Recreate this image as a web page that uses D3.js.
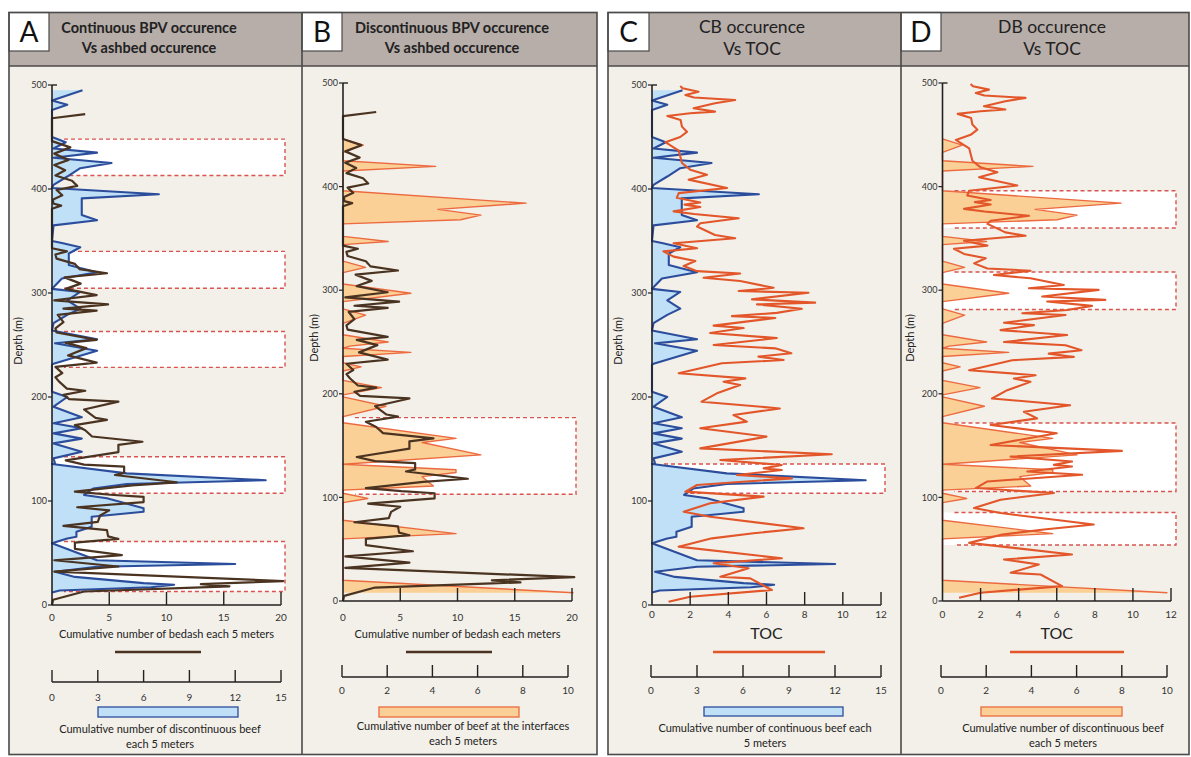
<!DOCTYPE html>
<html><head><meta charset="utf-8">
<script src="https://cdn.jsdelivr.net/npm/d3@7"></script>
<style>
body{margin:0;background:#ffffff}
svg{display:block}
text{font-family:Lato,"Open Sans",sans-serif}
</style>
</head><body>
<svg id="chart" width="1191" height="757"></svg>
<script>
// ---------------- DATA (depth in m, value) ----------------
const depthTicks = [0, 100, 200, 300, 400, 500];
const bedashTicks = [0, 5, 10, 15, 20];
const tocTicks = [0, 2, 4, 6, 8, 10, 12];
const contBeefTicks = [0, 3, 6, 9, 12, 15];
const discBeefTicks = [0, 2, 4, 6, 8, 10];

// Cumulative number of continuous beef each 5 m (blue)
const continuousBeef = [
 [495,2.0],[485,0],[481,1.0],[476,0],[450,0],[445,0.9],[439,0.1],[435,2.95],[430,0.1],[425,3.9],
 [420,1.85],[412,1.0],[404,0.1],[401,0],[395,7.0],[391,1.95],[375,1.95],[370,2.95],[365,0.1],[350,0],
 [348,0.65],[344,1.85],[338,1.1],[327,1.1],[324,1.85],[320,2.95],[317,1.85],[314,0.65],[304,0],[301,1.85],
 [293,1.0],[285,1.85],[279,1.0],[271,0.1],[264,0],[255.5,2.95],[251.6,0.2],[244.5,2.95],[232,0.1],[231,0],
 [205,0],[200,1.0],[190.7,0.1],[180.5,1.95],[174.7,0.1],[170,1.95],[165,0.1],[160,1.95],[155.4,0.1],[147.4,1.95],
 [141,0.1],[136,0.2],[135.5,0],[126.6,4.9],[120,14.0],[116.3,4.9],[112,2.7],[105.8,2.1],[102.6,3.6],[93,6.0],
 [89.7,6.0],[86.5,3.8],[84.9,2.6],[75.3,2.6],[70.5,1.6],[65.7,1.6],[64,1.0],[59.3,0],[43,2.95],[39.4,12.0],
 [36.8,2.95],[32,0.2],[27,1.5],[21,6.0],[19.5,8.0],[17,6.5],[14,0.5],[12,0]
];

// Cumulative number of discontinuous beef (beef at the interfaces) each 5 m (orange)
const discontinuousBeef = [
 [446,0],[440,0.9],[433,0],[425,0],[419.5,4.1],[415,0],[396,0],[384,8.1],[378,4.2],[372.5,6.1],
 [368,5.2],[364,0],[352,0],[347,2.0],[344,0],[328,0],[322,1.0],[317,0],[306,0],[297,3.0],
 [289,0],[282,0],[276,1.0],[268,0],[257,0],[250,2.0],[246,0.3],[244,0],[240,3.0],[236,0],
 [230,0],[226,0.8],[222,0],[213,0],[206,1.7],[199,0],[197,0],[188,1.9],[178,0],[172,0],
 [157,5.0],[153,3.5],[141,6.1],[132,0],[126.7,5.0],[124,5.0],[120,3.5],[111,4.0],[107,0],[104,0],
 [99,1.1],[95,0],[78,0],[65,5.0],[60,0],[20,0],[8,10.2]
];

// Cumulative number of bedash (ashbed) each 5 m (brown)
const ashbed = [
 [472,2.9],[468,0],[446,0],[440,1.6],[434,0.2],[428,1.45],[423,0.2],[418,1.15],[413,0.3],[408,1.75],
 [403,2.2],[399,0.4],[394,0.9],[390,0.1],[386,0.1],[384,0.8],[381,0],[343,0],[340,1.3],[337,0.3],
 [333,0.4],[328,2.0],[323,2.4],[319,4.8],[315,1.1],[309,2.5],[304,1.2],[298,3.9],[293,0.2],[289,4.9],
 [285,1.0],[283,3.9],[279,0.5],[272,1.0],[266,0.3],[262,0.4],[255,3.9],[252,1.2],[247,3.0],[240,1.4],
 [233,3.9],[229,0.3],[223,0.9],[219,0.3],[215,0.6],[208,1.3],[206,2.9],[202,1.0],[198,1.5],[195.5,5.8],
 [188,2.8],[180,3.8],[178,4.8],[173,2.0],[168,2.9],[162,3.5],[157,7.9],[154,5.8],[147,5.8],[139,1.2],
 [135,2.8],[133,6.3],[127,6.3],[125,5.5],[118,10.9],[115,7.0],[109,2.0],[106,5.1],[104,8.0],[99,8.0],
 [94,2.2],[91,5.0],[86,4.2],[80,4.0],[76,1.0],[72,4.8],[66,4.9],[63.5,5.8],[60,2.0],[54,2.0],
 [48,6.1],[43,0.2],[37,5.8],[32,0.2],[23,20.2],[20,13],[18,15.5],[17,13],[13,2.8],[5,0.1],[0,0]
];

// TOC (wt%)
const toc = [
 [499,1.48],[496.8,1.6],[493.6,2.44],[490.4,1.75],[488,2.2],[485.6,4.36],[482.4,3.3],[477.6,2.18],[474.4,3.3],[472.8,2.0],
 [470.2,0.8],[466.3,1.5],[460,1.57],[455,1.83],[450,1.48],[445,0.7],[437,1.4],[425,1.57],[418.6,2.0],[413.8,2.88],
 [409,1.92],[401,3.93],[396,1.4],[391.5,1.3],[387,2.53],[385,1.7],[382.7,2.53],[378.5,1.13],[376,2.2],[371.8,4.54],
 [367,2.53],[364,2.36],[355.8,3.3],[352.6,4.36],[347.8,1.13],[343,2.36],[340,0.6],[335,1.13],[330.8,2.27],[325.9,1.66],
 [321,2.36],[318.8,4.62],[314.7,2.7],[311.5,4.62],[305,6.37],[301.9,4.54],[300.3,8.2],[293.9,5.24],[290.7,8.55],[289.1,5.5],
 [284.9,7.85],[280.9,6.54],[277.8,4.19],[276,6.46],[268.6,3.23],[266.3,4.8],[261.5,3.05],[256.7,6.54],[250,3.23],[246.8,6.46],
 [242,7.3],[238.8,5.58],[235.6,6.9],[232.4,3.66],[222.8,1.4],[217.9,4.89],[214.7,3.75],[211.5,4.62],[203.5,3.4],[195.5,2.6],
 [189,6.7],[182.7,4.27],[176.3,4.97],[169.9,2.53],[161.9,6.0],[150.6,2.53],[144.9,9.42],[139.4,3.58],[134.6,6.8],[131.4,5.85],
 [129.8,6.8],[125,4.45],[121.8,7.33],[115.4,2.36],[109,1.75],[104.2,5.85],[97.8,3.05],[89.7,1.66],[84.9,3.05],[73.8,7.94],
 [69,5.32],[64.1,3.14],[56.1,1.4],[44.9,6.8],[40.1,3.23],[35.3,5.06],[27.2,3.58],[25.6,5.15],[14.4,6.28],[8,2.0],[3.2,0.87]
];

// highlighted intervals (top depth, bottom depth)
const zonesA = [[448,413],[340,304.5],[263,228.5],[142.6,107.4],[61,13]];
const zonesB = [[177,103]];
const zonesC = [[135.6,107.4]];
const zonesD = [[396,360],[317.5,281.4],[171.8,105.7],[85.4,54]];

// ---------------- STYLE ----------------
const C = {
  bg:'#f3f0e9', header:'#b7ada9', frame:'#4a4a4a',
  blueLine:'#2c4d9c', blueFill:'#bfe0f6',
  orangeLine:'#ec6a40', orangeFill:'#fbd096',
  brown:'#4a3320', toc:'#e2562a', zone:'#d9534f'
};

const svg = d3.select('#chart');

function box(x0,x1){
  svg.append('rect').attr('x',x0).attr('y',12.5).attr('width',x1-x0).attr('height',742)
    .attr('fill',C.bg);
}
box(9,597); box(608,1189);

const panels = [
 {letter:'A', fx0:9, fx1:302, lbx:[9,49], title:['Continuous BPV occurence','Vs ashbed occurence'], tx:149, bold:true,
  ax:52, axR:281, y0:605, y5:85, fill:continuousBeef, fillDom:15, fillR:281, fillKind:'blue',
  line:ashbed, lineDom:20, lineR:281, lineKind:'brown', ticks:bedashTicks, xTitle:'Cumulative number of bedash each 5 meters',
  xTitleSize:11, xTitleY:634, tickLabY:617, legLine:[115,201], legY:652,
  sec:{dom:15, ticks:contBeefTicks, r:[52,281], y:682, labY:697}, rect:[98,238,707,717],
  text:['Cumulative number of discontinuous beef','each 5 meters'], textX:160, textY:[729,744],
  zones:zonesA, zoneR:285, ylabX:22},
 {letter:'B', fx0:302, fx1:597, lbx:[302,342], title:['Discontinuous BPV occurence','Vs ashbed occurence'], tx:452, bold:true,
  ax:343, axR:572, y0:601, y5:83, fill:discontinuousBeef, fillDom:10, fillR:569, fillKind:'orange',
  line:ashbed, lineDom:20, lineR:572, lineKind:'brown', ticks:bedashTicks, xTitle:'Cumulative number of bedash each  meters',
  xTitleSize:11, xTitleY:634, tickLabY:617, legLine:[406,492], legY:652,
  sec:{dom:10, ticks:discBeefTicks, r:[342,568], y:677, labY:690}, rect:[379,519,707,717],
  text:['Cumulative number of beef at the interfaces','each 5 meters'], textX:463, textY:[726,741],
  zones:zonesB, zoneR:576, ylabX:318},
 {letter:'C', fx0:608, fx1:901, lbx:[608,649], title:['CB occurence','Vs TOC'], tx:752, bold:false,
  ax:652, axR:881, y0:605, y5:85, fill:continuousBeef, fillDom:15, fillR:881, fillKind:'blue',
  line:toc, lineDom:12, lineR:881, lineKind:'toc', ticks:tocTicks, xTitle:'TOC',
  xTitleSize:16, xTitleY:633, tickLabY:614, legLine:[713,825], legY:652,
  sec:{dom:15, ticks:contBeefTicks, r:[651,881], y:677, labY:690}, rect:[704,843,707,716],
  text:['Cumulative number of continuous beef  each','5 meters'], textX:765, textY:[728,743],
  zones:zonesC, zoneR:885, ylabX:622},
 {letter:'D', fx0:901, fx1:1189, lbx:[901,941], title:['DB occurence','Vs TOC'], tx:1052, bold:false,
  ax:942.5, axR:1171, y0:601, y5:83, fill:discontinuousBeef, fillDom:10, fillR:1163, fillKind:'orange',
  line:toc, lineDom:12, lineR:1171, lineKind:'toc', ticks:tocTicks, xTitle:'TOC',
  xTitleSize:16, xTitleY:633, tickLabY:614, legLine:[1010,1124], legY:652,
  sec:{dom:10, ticks:discBeefTicks, r:[941,1167], y:677, labY:690}, rect:[981,1122,707,716],
  text:['Cumulative number of discontinuous beef','each 5 meters'], textX:1063, textY:[728,743],
  zones:zonesD, zoneR:1176, ylabX:914}
];

panels.forEach(p => {
  const g = svg.append('g');
  const y = d3.scaleLinear().domain([0,500]).range([p.y0,p.y5]);
  const xf = d3.scaleLinear().domain([0,p.fillDom]).range([p.ax,p.fillR]);
  const xl = d3.scaleLinear().domain([0,p.lineDom]).range([p.ax,p.axR]);

  g.append('rect').attr('x',p.fx0).attr('y',12.5).attr('width',p.fx1-p.fx0).attr('height',53.5)
    .attr('fill',C.header);
  p.zones.forEach(z => {
    const yt = y(z[0]), yb = y(z[1]);
    g.append('rect').attr('x',p.ax+1).attr('y',yt).attr('width',p.zoneR-p.ax-1).attr('height',yb-yt)
      .attr('fill','#ffffff');
    g.append('path').attr('d',`M${p.ax+12},${yt}H${p.zoneR}V${yb}H${p.ax+12}`)
      .attr('fill','none').attr('stroke',C.zone).attr('stroke-width',1.4).attr('stroke-dasharray','4,3');
  });
  const area = d3.area().y(d=>y(d[0])).x0(xf(0)).x1(d=>xf(d[1]));
  const line = d3.line().y(d=>y(d[0])).x(d=>xf(d[1]));
  const fc = p.fillKind==='blue' ? C.blueFill : C.orangeFill;
  const lc = p.fillKind==='blue' ? C.blueLine : C.orangeLine;
  g.append('path').datum(p.fill).attr('d',area).attr('fill',fc);
  g.append('path').datum(p.fill).attr('d',line).attr('fill','none').attr('stroke',lc)
    .attr('stroke-width',p.fillKind==='blue'?2.1:1.4).attr('stroke-linejoin','round');
  const l2 = d3.line().y(d=>y(d[0])).x(d=>xl(d[1]));
  g.append('path').datum(p.line).attr('d',l2).attr('fill','none')
    .attr('stroke',p.lineKind==='brown'?C.brown:C.toc)
    .attr('stroke-width',p.lineKind==='brown'?2.2:2.1).attr('stroke-linejoin','round');

  g.append('line').attr('x1',p.ax).attr('x2',p.ax).attr('y1',p.y0).attr('y2',p.y5)
    .attr('stroke','#222').attr('stroke-width',1.6);
  g.append('line').attr('x1',p.ax).attr('x2',p.ax+5).attr('y1',p.y5).attr('y2',p.y5)
    .attr('stroke','#222').attr('stroke-width',1.4);
  depthTicks.forEach(t => {
    g.append('line').attr('x1',p.ax-4).attr('x2',p.ax).attr('y1',y(t)).attr('y2',y(t))
      .attr('stroke','#222').attr('stroke-width',1.2);
    g.append('text').attr('x',p.ax-5).attr('y',y(t)).attr('dy','0.35em').attr('text-anchor','end')
      .attr('font-size',9).attr('fill','#333').text(t);
  });
  g.append('text').attr('transform',`translate(${p.ylabX},${(p.y0+p.y5)/2 - 4}) rotate(-90)`)
    .attr('text-anchor','middle').attr('font-size',11).attr('fill','#222').text('Depth (m)');

  g.append('line').attr('x1',p.ax).attr('x2',p.axR).attr('y1',p.y0).attr('y2',p.y0)
    .attr('stroke','#222').attr('stroke-width',1.6);
  p.ticks.forEach(t => {
    if (t>0) g.append('line').attr('x1',xl(t)).attr('x2',xl(t)).attr('y1',p.y0).attr('y2',p.y0-13)
      .attr('stroke','#222').attr('stroke-width',1.4);
    g.append('text').attr('x',xl(t)).attr('y',p.tickLabY).attr('dy','0.35em').attr('text-anchor','middle')
      .attr('font-size',10).attr('fill','#333').text(t);
  });
  g.append('text').attr('x',(p.ax+p.axR)/2).attr('y',p.xTitleY).attr('dy','0.35em').attr('text-anchor','middle')
    .attr('font-size',p.xTitleSize).attr('fill','#222').text(p.xTitle);
  g.append('line').attr('x1',p.legLine[0]).attr('x2',p.legLine[1]).attr('y1',p.legY).attr('y2',p.legY)
    .attr('stroke',p.lineKind==='brown'?C.brown:C.toc).attr('stroke-width',2.5);
  const xs = d3.scaleLinear().domain([0,p.sec.dom]).range(p.sec.r);
  g.append('line').attr('x1',p.sec.r[0]).attr('x2',p.sec.r[1]).attr('y1',p.sec.y).attr('y2',p.sec.y)
    .attr('stroke','#222').attr('stroke-width',1.6);
  p.sec.ticks.forEach(t => {
    g.append('line').attr('x1',xs(t)).attr('x2',xs(t)).attr('y1',p.sec.y).attr('y2',p.sec.y-12)
      .attr('stroke','#222').attr('stroke-width',1.4);
    g.append('text').attr('x',xs(t)).attr('y',p.sec.labY).attr('dy','0.35em').attr('text-anchor','middle')
      .attr('font-size',10).attr('fill','#333').text(t);
  });
  g.append('rect').attr('x',p.rect[0]).attr('y',p.rect[2]).attr('width',p.rect[1]-p.rect[0]).attr('height',p.rect[3]-p.rect[2])
    .attr('fill',fc).attr('stroke',lc).attr('stroke-width',1.3);
  p.text.forEach((s,i) => {
    g.append('text').attr('x',p.textX).attr('y',p.textY[i]).attr('dy','0.35em').attr('text-anchor','middle')
      .attr('font-size',11).attr('fill','#222').text(s);
  });

  p.title.forEach((s,i) => {
    g.append('text').attr('x',p.tx).attr('y',p.bold?[28,48][i]:[27,49][i]).attr('dy','0.35em').attr('text-anchor','middle')
      .attr('font-size',p.bold?14.5:17.5).attr('font-weight',p.bold?'bold':'normal').attr('fill','#222').text(s);
  });
  g.append('rect').attr('x',p.lbx[0]).attr('y',12.5).attr('width',p.lbx[1]-p.lbx[0]).attr('height',38.5)
    .attr('fill','#ffffff').attr('stroke',C.frame).attr('stroke-width',1.2);
  g.append('text').attr('x',(p.lbx[0]+p.lbx[1])/2).attr('y',32).attr('dy','0.36em').attr('text-anchor','middle')
    .attr('font-size',28).attr('fill','#111').text(p.letter);
});

function frame(x0,x1,xm){
  svg.append('rect').attr('x',x0).attr('y',12.5).attr('width',x1-x0).attr('height',742)
    .attr('fill','none').attr('stroke',C.frame).attr('stroke-width',1.6);
  svg.append('line').attr('x1',xm).attr('x2',xm).attr('y1',12.5).attr('y2',754.5)
    .attr('stroke',C.frame).attr('stroke-width',1.6);
  svg.append('line').attr('x1',x0).attr('x2',x1).attr('y1',66).attr('y2',66)
    .attr('stroke',C.frame).attr('stroke-width',1.6);
}
frame(9,597,302); frame(608,1189,901);
</script>
</body></html>
